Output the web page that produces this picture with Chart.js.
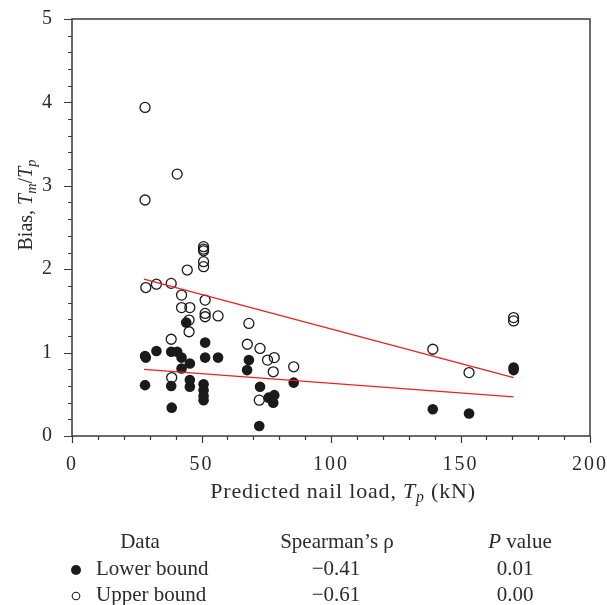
<!DOCTYPE html>
<html>
<head>
<meta charset="utf-8">
<script src="https://cdn.jsdelivr.net/npm/chart.js@4/dist/chart.umd.min.js"></script>
<style>
  html, body { margin: 0; padding: 0; background: #fff; }
  #wrap { width: 607px; height: 605px; position: relative; }
</style>
</head>
<body>
<div id="wrap"><canvas id="c" width="607" height="605"></canvas></div>
<script>
/* Bias Tm/Tp vs predicted nail load Tp — lower / upper bound, with linear trends. */
const lowerX = [28.2, 28.5, 32.6, 38.3, 40.6, 42.3, 42.3, 45.5, 44.1, 51.4, 51.4, 56.4,
  28.2, 38.3, 45.5, 45.5, 50.8, 50.8, 50.8, 50.8, 38.5,
  68.3, 67.6, 72.6, 72.3, 75.9, 78.1, 77.7, 85.6, 139.3, 153.3, 170.5, 170.5];
const lowerY = [0.96, 0.94, 1.02, 1.01, 1.01, 0.94, 0.81, 0.87, 1.36, 1.12, 0.94, 0.94,
  0.61, 0.60, 0.67, 0.59, 0.62, 0.55, 0.48, 0.43, 0.34,
  0.91, 0.79, 0.59, 0.12, 0.46, 0.49, 0.40, 0.64, 0.32, 0.27, 0.82, 0.79];
const upperX = [28.2, 40.6, 28.2, 50.8, 50.8, 50.8, 50.8, 50.8, 44.5, 38.3, 32.6, 28.5,
  42.3, 51.4, 42.3, 45.5, 51.4, 51.4, 56.4, 45.2, 45.2, 38.3, 38.5,
  68.3, 67.7, 72.6, 75.5, 78.1, 77.7, 85.6, 72.3, 139.3, 153.3, 170.5, 170.5];
const upperY = [3.94, 3.14, 2.83, 2.27, 2.24, 2.22, 2.09, 2.03, 1.99, 1.83, 1.82, 1.78,
  1.69, 1.63, 1.54, 1.54, 1.47, 1.43, 1.44, 1.39, 1.25, 1.16, 0.70,
  1.35, 1.10, 1.05, 0.91, 0.94, 0.77, 0.83, 0.43, 1.04, 0.76, 1.42, 1.38];
// trend line end points
const trendX = [27.8, 170.5];
const trendLowerY = [0.80, 0.47];
const trendUpperY = [1.88, 0.70];
// stats table
const tableHead = ["Data", "Spearman\u2019s \u03c1", "P value"];
const seriesNames = ["Lower bound", "Upper bound"];
const spearmanRho = ["\u22120.41", "\u22120.61"];
const pValues = ["0.01", "0.00"];

const FONT = "'Liberation Serif', 'DejaVu Serif', serif";
const TXT = "#2b2b2b", AXC = "#3a3a3a", RED = "#e8231f";
const pts = (xs, ys) => xs.map((x, i) => ({ x, y: ys[i] }));

// draw a run of [text, italic, sub] pieces; returns width
function rich(ctx, parts, x, y, size, measureOnly) {
  let w = 0;
  parts.forEach(([t, it, sub]) => {
    const fs = sub ? size * 0.72 : size;
    ctx.font = (it ? "italic " : "") + fs + "px " + FONT;
    if (!measureOnly) ctx.fillText(t, x + w, y + (sub ? size * 0.28 : 0));
    w += ctx.measureText(t).width;
  });
  return w;
}

const decor = {
  id: "decor",
  beforeDraw(chart) { chart.ctx.letterSpacing = "2px"; },   // wider tick digits
  afterDraw(chart) {
    const { ctx, chartArea: a, scales: { x, y } } = chart;
    ctx.letterSpacing = "0px";
    ctx.save();
    // frame
    ctx.strokeStyle = AXC; ctx.lineWidth = 1.5;
    ctx.strokeRect(a.left, a.top, a.right - a.left, a.bottom - a.top);
    // ticks (outside), majors longer
    ctx.lineWidth = 1.2;
    ctx.beginPath();
    for (let v = 0; v <= 200.001; v += 10) {
      const px = Math.round(x.getPixelForValue(v)) + 0.5;
      const len = Math.abs(v % 50) < 1e-6 ? 7 : 4;
      ctx.moveTo(px, a.bottom); ctx.lineTo(px, a.bottom + len);
    }
    for (let i = 0; i <= 25; i++) {
      const v = i * 0.2;
      const py = Math.round(y.getPixelForValue(v)) + 0.5;
      const len = i % 5 === 0 ? 8 : 4;
      ctx.moveTo(a.left, py); ctx.lineTo(a.left - len, py);
    }
    ctx.stroke();

    ctx.fillStyle = TXT;
    ctx.textBaseline = "middle";
    ctx.textAlign = "left";
    // x title
    ctx.letterSpacing = "0.8px";
    const xt = [["Predicted nail load, ", false], ["T", true], ["p", true, true], [" (kN)", false]];
    let w = rich(ctx, xt, 0, 0, 22, true);
    rich(ctx, xt, 343 - w / 2, 492, 22);
    ctx.letterSpacing = "0px";
    // y title
    const yt = [["Bias, ", false], ["T", true], ["m", true, true], ["/", false], ["T", true], ["p", true, true]];
    ctx.save();
    ctx.translate(27, 205); ctx.rotate(-Math.PI / 2);
    w = rich(ctx, yt, 0, 0, 20, true);
    rich(ctx, yt, -w / 2, 0, 20);
    ctx.restore();

    // table
    ctx.font = "21px " + FONT;
    ctx.textAlign = "center";
    ctx.fillText(tableHead[0], 140, 542);
    ctx.fillText(tableHead[1], 337, 542);
    ctx.textAlign = "left";
    const ph = [["P", true], [" value", false]];
    w = rich(ctx, ph, 0, 0, 21, true);
    rich(ctx, ph, 520 - w / 2, 542, 21);
    ctx.font = "21px " + FONT;
    const rowsY = [569, 595];
    rowsY.forEach((ry, i) => {
      ctx.textAlign = "left";
      ctx.fillText(seriesNames[i], 96, ry);
      ctx.textAlign = "center";
      ctx.fillText(spearmanRho[i], 336, ry);
      ctx.fillText(pValues[i], 515, ry);
    });
    // legend markers
    ctx.beginPath(); ctx.arc(76, 570, 5, 0, Math.PI * 2);
    ctx.fillStyle = "#1a1a1a"; ctx.fill();
    ctx.beginPath(); ctx.arc(76, 596, 3.8, 0, Math.PI * 2);
    ctx.strokeStyle = "#1a1a1a"; ctx.lineWidth = 1.1; ctx.stroke();
    ctx.restore();
  },
};

new Chart(document.getElementById("c"), {
  type: "scatter",
  data: {
    datasets: [
      { label: "Lower trend", type: "line", data: pts(trendX, trendLowerY), borderColor: RED,
        borderWidth: 1.3, pointRadius: 0, fill: false, order: 0 },
      { label: "Upper trend", type: "line", data: pts(trendX, trendUpperY), borderColor: RED,
        borderWidth: 1.3, pointRadius: 0, fill: false, order: 0 },
      { label: "Upper bound", data: pts(upperX, upperY), pointRadius: 5, pointBorderWidth: 1.3,
        pointBorderColor: "#1a1a1a", pointBackgroundColor: "rgba(255,255,255,0)", order: 2 },
      { label: "Lower bound", data: pts(lowerX, lowerY), pointRadius: 5.3, pointBorderWidth: 0,
        pointBackgroundColor: "#1a1a1a", order: 1 },
    ],
  },
  options: {
    responsive: false, animation: false, maintainAspectRatio: false,
    layout: { padding: { top: 19, right: 17, left: 0, bottom: 0 } },
    plugins: { legend: { display: false }, tooltip: { enabled: false } },
    scales: {
      x: {
        type: "linear", min: 0, max: 200,
        afterFit: s => { s.height = 169; s.paddingLeft = 0; s.paddingRight = 0; },
        border: { display: false },
        grid: { display: false, drawTicks: false },
        ticks: { stepSize: 50, padding: 17, color: TXT, font: { family: FONT, size: 20 }, maxRotation: 0 },
      },
      y: {
        type: "linear", min: 0, max: 5,
        afterFit: s => { s.width = 72; s.paddingTop = 0; s.paddingBottom = 0; },
        border: { display: false },
        grid: { display: false, drawTicks: false },
        ticks: { stepSize: 1, padding: 18, color: TXT, font: { family: FONT, size: 20 } },
      },
    },
  },
  plugins: [decor],
});
</script>
</body>
</html>
